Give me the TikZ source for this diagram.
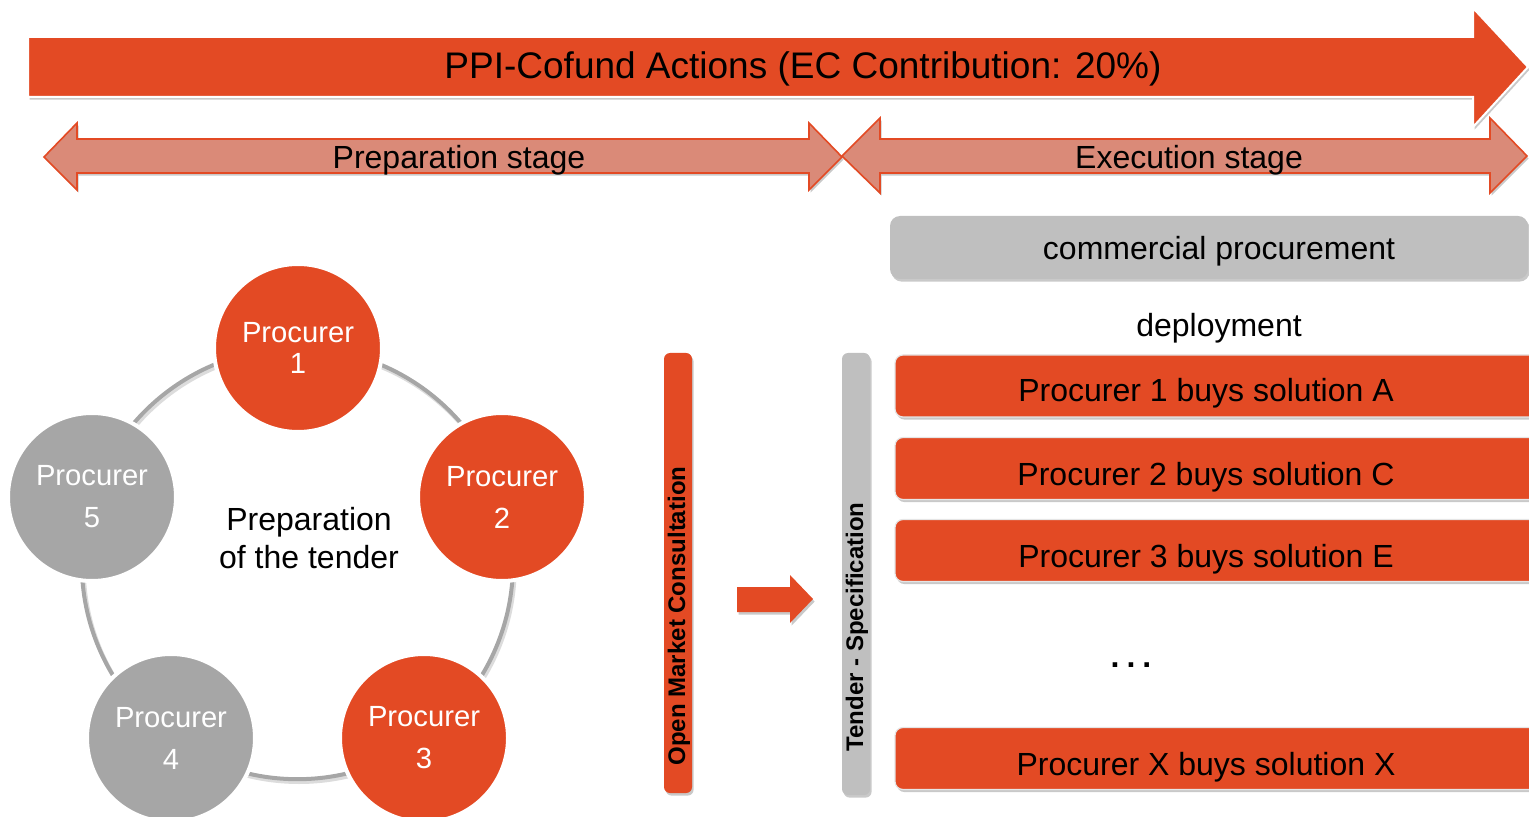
\documentclass[tikz,border=0pt]{standalone}
\usepackage{fontspec}
\setmainfont{Liberation Sans}
\usetikzlibrary{shadows}
\definecolor{orng}{HTML}{E34A24}
\definecolor{salm}{HTML}{DA8A78}
\definecolor{lgray}{HTML}{BFBFBF}
\definecolor{mgray}{HTML}{A6A6A6}
\begin{document}
\begin{tikzpicture}[x=0.5pt,y=-0.5pt,
  shd/.style={drop shadow={shadow xshift=0.8pt,shadow yshift=-1.3pt,opacity=0.3,fill=black!70}},
  bigarrow/.style={fill=orng,draw=white,line width=1pt,shd},
  dblarrow/.style={fill=salm,draw=orng,line width=0.8pt,shd},
  lbl/.style={font=\fontsize{16}{19}\selectfont,text=black,inner sep=0pt},
  proc/.style={circle,minimum size=84pt,inner sep=0pt,draw=white,line width=2pt,align=center,text=white,font=\fontsize{14.6}{21}\selectfont},
  vbar/.style={rounded corners=3pt,minimum width=14pt,inner sep=0pt,shd},
  vtxt/.style={rotate=90,font=\bfseries\fontsize{12}{14}\selectfont,text=black,inner sep=0pt},
  obox/.style={fill=orng,draw=white!80!gray,line width=0.6pt,rounded corners=4pt,minimum width=325pt,minimum height=31pt,inner sep=0pt,shd},
  gbox/.style={fill=lgray,rounded corners=5pt,minimum width=319pt,minimum height=31.5pt,inner sep=0pt,shd}]
\useasboundingbox (0,0) rectangle (1529,817);
\clip (0,0) rectangle (1529,817);
% main arrow
\draw[bigarrow] (28,37) -- (1473,37) -- (1473,8) -- (1528,67) -- (1473,127) -- (1473,97) -- (28,97) -- cycle;
\node[lbl,font=\fontsize{18.5}{22}\selectfont] (title) at (803,69) {PPI-Cofund Actions (EC Contribution: 20\%)};
% stage arrows
\draw[dblarrow] (44,157) -- (77,123) -- (77,139) -- (809,139) -- (809,123) -- (842,157) -- (809,190) -- (809,173) -- (77,173) -- (77,190) -- cycle;
\draw[dblarrow] (842,156) -- (880,118) -- (880,139) -- (1490,139) -- (1490,118) -- (1527,156) -- (1490,193) -- (1490,173) -- (880,173) -- (880,193) -- cycle;
\node[lbl] (prep) at (459,160) {Preparation stage};
\node[lbl] (exec) at (1189,160) {Execution stage};
% ring of procurers
\coordinate (rc) at (297.4,563.6);
\draw[black!30,line width=2.2pt,opacity=0.45] ([xshift=0.8pt,yshift=-1.3pt]rc) circle[radius=215.6];
\draw[mgray,line width=2pt] (rc) circle[radius=215.6];
\node[proc,fill=orng,font=\fontsize{14.6}{15.5}\selectfont] (p1) at (298,348) {Procurer\\1};
\node[proc,fill=orng] (p2) at (502,497) {Procurer\\2};
\node[proc,fill=orng] (p3) at (424,738) {Procurer\\3};
\node[proc,fill=mgray] (p4) at (171,738) {Procurer\\4};
\node[proc,fill=mgray] (p5) at (92,497) {Procurer\\5};
\node[lbl,align=center] (prept) at (309,538) {Preparation\\of the tender};
% vertical bars
\node[vbar,fill=orng,minimum height=220pt] (omc) at (678,573) {};
\node[vtxt] (omct) at (679,616) {Open Market Consultation};
\node[vbar,fill=lgray,minimum height=221pt] (ts) at (856,574) {};
\node[vtxt] (tst) at (857,627) {Tender - Specification};
% small arrow
\draw[fill=orng,draw=none,shd] (737,587) -- (790,587) -- (790,575) -- (813,599) -- (790,623) -- (790,612) -- (737,612) -- cycle;
% right column
\node[gbox] (cp) at (1209,247.5) {};
\node[lbl] (cpt) at (1219,251) {commercial procurement};
\node[lbl] (dep) at (1219,328) {deployment};
\node[obox] (b1) at (1220,386) {};
\node[lbl] (b1t) at (1206,393) {Procurer 1 buys solution A};
\node[obox] (b2) at (1220,468.5) {};
\node[lbl] (b2t) at (1206,477) {Procurer 2 buys solution C};
\node[obox] (b3) at (1220,550.5) {};
\node[lbl] (b3t) at (1206,559) {Procurer 3 buys solution E};
\node[lbl,font=\bfseries\fontsize{16}{19}\selectfont] (dots) at (1131,665) {.\kern3.5pt.\kern3.5pt.};
\node[obox] (bx) at (1220,758.5) {};
\node[lbl] (bxt) at (1206,767) {Procurer X buys solution X};
\end{tikzpicture}
\end{document}
